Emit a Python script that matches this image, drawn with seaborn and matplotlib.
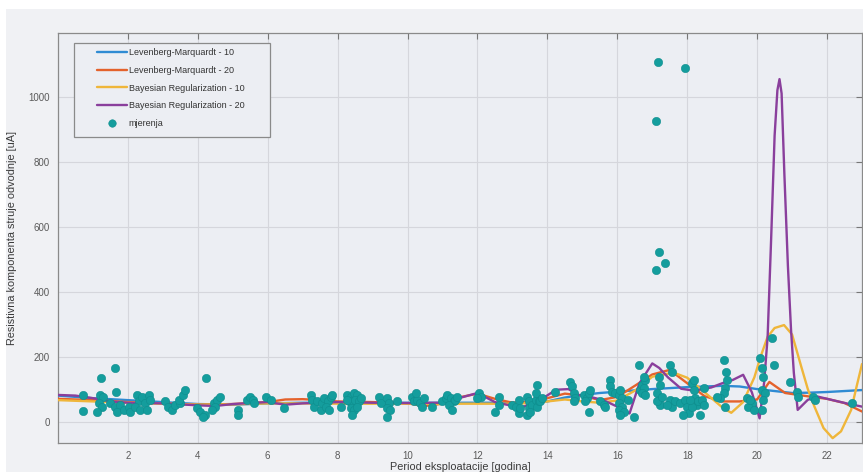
import pandas as pd
import matplotlib.pyplot as plt
import seaborn as sns
from matplotlib.patches import Rectangle

# --- fitted curves ---
lm10_x = [0, 1, 2, 3, 4, 5, 6, 7, 8, 9, 10, 11, 12, 13, 14, 14.5, 15, 15.5, 16, 16.5,
          17, 17.5, 18, 18.5, 19, 19.5, 20, 20.5, 21, 21.5, 22, 22.5, 23]
lm10_y = [80, 72, 66, 60, 54, 52, 56, 58, 58, 58, 58, 58, 58, 58, 62, 74, 82, 88, 92, 96,
          100, 103, 106, 108, 110, 108, 100, 94, 88, 89, 91, 94, 97]

lm20_x = [0, 1, 2, 3, 4, 5, 6, 6.5, 7, 7.5, 8, 9, 10, 10.5, 11, 11.5, 12, 12.5, 13, 13.5,
          14, 14.5, 15, 15.5, 16, 16.5, 17, 17.5, 18, 18.5, 19, 19.5, 20, 20.35, 20.8,
          21.5, 22, 22.5, 23]
lm20_y = [70, 66, 60, 56, 52, 54, 60, 68, 69, 66, 62, 60, 56, 48, 55, 75, 86, 70, 58, 60,
          72, 86, 80, 66, 76, 110, 145, 159, 118, 78, 62, 62, 68, 122, 88,
          77, 70, 57, 31]

br10_x = [0, 1, 2, 3, 4, 5, 6, 7, 8, 9, 10, 11, 12, 13, 13.5, 14, 14.5, 15, 15.5, 16,
          16.5, 17, 17.6, 18, 18.5, 19, 19.26, 19.6, 19.92, 20.1, 20.3, 20.5, 20.77, 21.0,
          21.26, 21.45, 21.64, 21.9, 22.16, 22.4, 22.69, 22.85, 23]
br10_y = [66, 62, 58, 55, 52, 53, 56, 56, 55, 55, 55, 55, 55, 55, 57, 62, 68, 62, 58, 65,
          95, 138, 151, 135, 90, 44, 27, 60, 136, 200, 261, 288, 297, 268,
          170, 100, 46, -20, -51, -30, 36, 110, 177]

br20_x = [0, 0.5, 1, 1.5, 2, 3, 4, 4.5, 5, 6, 6.5, 7, 8, 9, 10, 11, 12, 12.5, 13, 13.3,
          13.8, 14.25, 14.6, 14.9, 15.3, 15.6, 16.0, 16.35, 16.63, 17.0, 17.2, 17.45,
          17.83, 18.2, 18.69, 19.0, 19.3, 19.6, 19.85, 20.07, 20.2, 20.3, 20.4, 20.5,
          20.58, 20.64, 20.7, 20.78, 20.88, 20.97, 21.05, 21.16, 21.45, 21.73, 22.2,
          22.6, 23]
br20_y = [82, 80, 72, 62, 58, 56, 50, 48, 54, 60, 52, 56, 60, 58, 57, 58, 88, 60, 48, 45,
          67, 98, 100, 82, 74, 66, 46, 25, 117, 179, 165, 136,
          101, 95, 105, 118, 128, 144, 90, 10, 120, 260, 560, 880,
          1020, 1054, 1010, 760, 480, 282, 150, 36, 67, 77, 65,
          55, 46]

# --- measurements ---
meas_x = [0.71, 0.71, 1.24, 1.64, 1.67, 1.21, 1.3, 1.16, 1.26, 1.11,
          1.49, 1.64, 1.78, 1.69, 1.88, 2.02, 2.07,
          2.26, 2.31, 2.21, 2.4, 2.49, 2.35, 2.54, 2.59, 2.64,
          3.07, 3.16, 3.26, 3.35, 3.49, 3.45, 3.59, 3.64,
          3.97, 4.07, 4.21, 4.16, 4.24, 4.45, 4.54, 4.64, 4.49, 4.4,
          5.16, 5.16, 5.4, 5.49, 5.59, 5.61, 5.94, 6.09, 6.47,
          7.23, 7.28, 7.32, 7.42, 7.51, 7.56, 7.61, 7.71, 7.8, 7.85, 7.66, 7.75, 8.09,
          8.28, 8.37, 8.47, 8.56, 8.32, 8.42, 8.51, 8.61, 8.37, 8.47, 8.56, 8.42, 8.66, 8.28,
          9.18, 9.23, 9.42, 9.47, 9.42, 9.51, 9.4, 9.7,
          10.13, 10.18, 10.28, 10.37, 10.47, 10.23, 10.42, 10.7, 10.99, 11.09,
          11.13, 11.23, 11.32, 11.18, 11.28, 11.37, 11.42, 12.04, 12.09, 11.99,
          12.61, 12.51, 12.61,
          12.99, 13.09, 13.18, 13.18, 13.23, 13.42, 13.47, 13.47, 13.42, 13.56, 13.66,
          13.71, 13.75, 13.66, 13.71, 13.8, 13.85, 13.51, 14.23,
          14.66, 14.7, 14.75, 14.8, 14.75, 15.04, 15.13, 15.18, 15.23, 15.18, 15.09,
          15.51, 15.61, 15.66,
          15.8, 15.8, 15.85, 15.94, 16.04, 16.09, 16.13, 16.04, 16.13, 16.04, 16.18, 16.09,
          16.47, 16.32, 16.61,
          16.66, 16.71, 16.75, 16.8, 16.75, 16.71, 16.8,
          17.18, 17.23, 17.13, 17.18, 17.23, 17.13, 17.28,
          17.51, 17.56, 17.51, 17.56, 17.42, 17.66,
          17.8, 17.94, 17.99, 18.04, 17.89, 18.13, 18.18, 18.23, 18.27, 18.32, 18.37, 18.42,
          18.18, 18.13, 18.09, 18.47, 18.47,
          19.04, 19.11, 19.13, 19.09, 19.04, 18.94, 19.09, 18.85,
          19.7, 19.85, 19.75, 19.9, 19.8,
          20.09, 20.13, 20.18, 20.13, 20.23, 20.18, 20.13, 20.42, 20.47, 20.94, 21.13, 21.18,
          21.61, 21.66, 22.7,
          17.17, 17.94, 17.12, 17.18, 17.37, 17.12]
meas_y = [82, 34, 135, 164, 92, 82, 77, 58, 46, 28,
          57, 46, 51, 31, 36, 46, 31,
          82, 62, 46, 77, 57, 36, 36, 82, 67,
          62, 46, 36, 51, 57, 67, 82, 98,
          41, 31, 21, 15, 135, 57, 67, 77, 46, 36,
          36, 21, 67, 77, 67, 57, 77, 67, 41,
          82, 67, 46, 62, 36, 57, 72, 62, 77, 82, 46, 36, 46,
          82, 77, 87, 82, 62, 57, 67, 62, 41, 36, 46, 21, 72, 67,
          77, 57, 72, 57, 41, 36, 13, 62,
          77, 62, 67, 57, 72, 87, 46, 46, 62, 72,
          82, 72, 62, 51, 36, 67, 77, 87, 77, 72,
          77, 31, 51,
          51, 46, 67, 26, 41, 77, 62, 41, 21, 51, 67,
          46, 62, 87, 113, 62, 72, 31, 92,
          123, 108, 87, 72, 62, 82, 72, 87, 98, 31, 62,
          62, 51, 46,
          128, 108, 92, 87, 82, 98, 72, 57, 46, 36, 31, 21,
          15, 67, 174,
          98, 113, 103, 128, 138, 87, 82,
          138, 113, 87, 67, 51, 62, 77,
          174, 154, 67, 46, 51, 62,
          57, 67, 46, 26, 21, 118, 98, 72, 51, 62, 21, 67,
          128, 46, 67, 51, 103,
          190, 154, 128, 103, 87, 72, 46, 77,
          72, 57, 46, 36, 67,
          195, 164, 138, 98, 87, 67, 36, 257, 174, 123, 92, 77,
          77, 67, 57,
          1107, 1088, 926, 523, 488, 467]

x_ticks = [2, 4, 6, 8, 10, 12, 14, 16, 18, 20, 22]
y_ticks = [0, 200, 400, 600, 800, 1000]

curves = [
    ("Levenberg-Marquardt - 10", lm10_x, lm10_y, "#2f8bd3"),
    ("Levenberg-Marquardt - 20", lm20_x, lm20_y, "#e4622c"),
    ("Bayesian Regularization - 10", br10_x, br10_y, "#efb63a"),
    ("Bayesian Regularization - 20", br20_x, br20_y, "#8a3f9c"),
]

sns.set_style("whitegrid")
plt.rcParams['font.family'] = ['Liberation Sans', 'DejaVu Sans']

fig = plt.figure(figsize=(8.63, 4.72), dpi=100, facecolor="white")
# grey window area (white strip at top and left as in the screenshot)
fig.patches.append(Rectangle((6 / 863, 0), 1, 1 - 9 / 472, transform=fig.transFigure,
                             facecolor="#f0f1f4", edgecolor="none", zorder=-10))
ax = fig.add_axes([58 / 863, 1 - 442.7 / 472, 804 / 863, 409.4 / 472])
ax.set_zorder(1)
ax.set_facecolor("#eceef3")

handles = []
for name, xs, ys, col in curves:
    df = pd.DataFrame({"x": xs, "y": ys})
    sns.lineplot(data=df, x="x", y="y", ax=ax, color=col, lw=1.7, sort=False,
                 estimator=None, zorder=3)
    handles.append((ax.lines[-1], name))

meas = pd.DataFrame({"x": meas_x, "y": meas_y})
sns.scatterplot(data=meas, x="x", y="y", ax=ax, color="#149d9d", s=36,
                edgecolor="#0e8d8d", linewidth=0.4, zorder=5)
handles.append((ax.collections[-1], "mjerenja"))

ax.set_xlim(0, 23)
ax.set_ylim(-65, 1195)
ax.set_xticks(x_ticks)
ax.set_yticks(y_ticks)
ax.grid(True, color="#d5d6dc", lw=0.8)
ax.tick_params(direction="in", length=4, top=True, right=True, color="#777777",
               labelcolor="#5a5a5a", labelsize=7, pad=6)
for sp in ax.spines.values():
    sp.set_color("#8a8a8a")
    sp.set_linewidth(0.9)

ax.set_xlabel("Period eksploatacije [godina]", fontsize=7.8, color="#3a3a3a", labelpad=1)
ax.set_ylabel("Resistivna komponenta struje odvodnje [uA]", fontsize=7.8,
              color="#3a3a3a", labelpad=8)

# legend box drawn as a patch, entries on top of it
ax.add_patch(Rectangle((0.0199, 0.7467), 0.2444, 0.2296, transform=ax.transAxes,
                       facecolor="#eceef3", edgecolor="#8a8a8a", lw=0.9, zorder=6))
leg = ax.legend([h for h, _ in handles], [n for _, n in handles], loc="upper left",
                bbox_to_anchor=(0.049, 0.963), frameon=False, fontsize=6.5,
                borderpad=0, borderaxespad=0, handlelength=3.3, handletextpad=0.15,
                labelspacing=0.95, scatterpoints=1, markerscale=0.9)
leg.set_zorder(7)
for t in leg.get_texts():
    t.set_color("#333333")

plt.savefig("out.png", dpi=100)
